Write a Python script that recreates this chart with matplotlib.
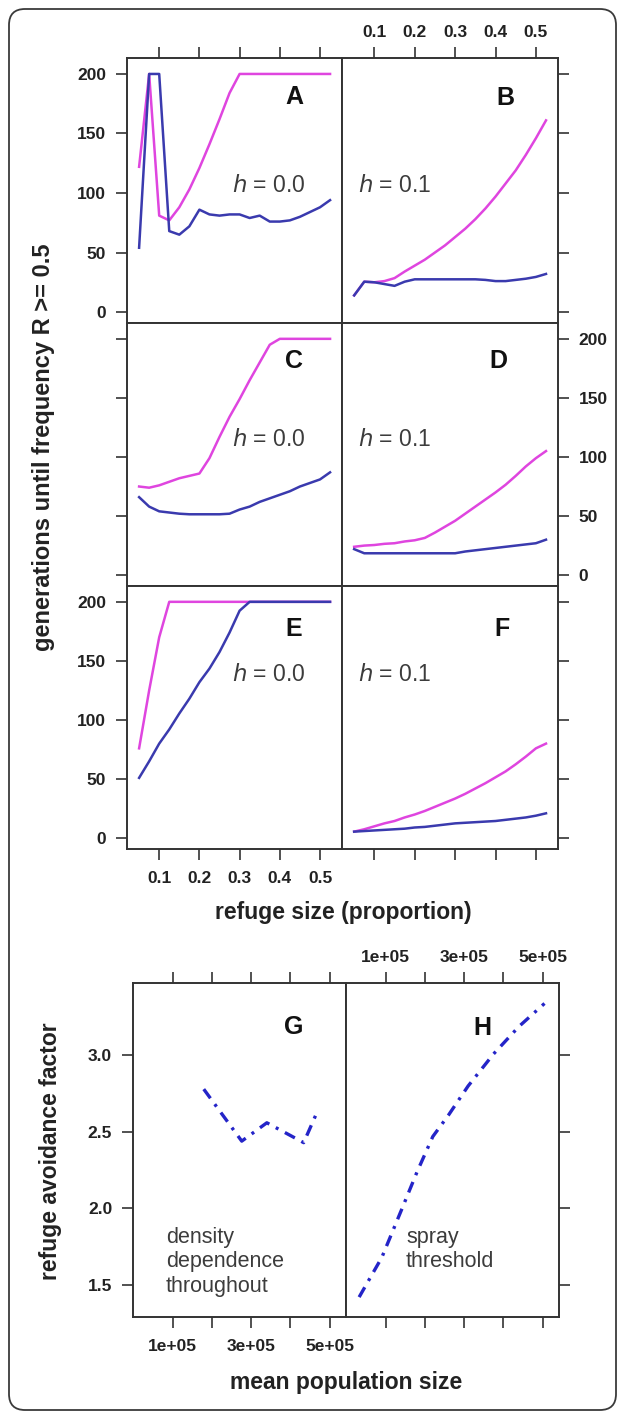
#!/usr/bin/env python3
"""
Refuge size / refuge avoidance panels (A-H), lattice-like layout.
"""

import matplotlib
matplotlib.use("Agg")
import matplotlib.pyplot as plt
from matplotlib.patches import FancyBboxPatch

plt.rcParams["font.family"] = ["Liberation Sans", "DejaVu Sans"]

# ── Data ─────────────────────────────────────────────────────────
refuge = [0.05, 0.075, 0.1, 0.125, 0.15, 0.175, 0.2, 0.225, 0.25, 0.275,
          0.3, 0.325, 0.35, 0.375, 0.4, 0.425, 0.45, 0.475, 0.5, 0.525]

a_pink = [122, 200, 81, 77, 88, 103, 121, 141, 162, 184,
          200, 200, 200, 200, 200, 200, 200, 200, 200, 200]
a_blue = [54, 200, 200, 68, 65, 72, 86, 82, 81, 82,
          82, 79, 81, 76, 76, 77, 80, 84, 88, 94]

b_pink = [14, 25.5, 25, 26, 28.5, 34, 39, 44, 50, 56,
          63, 70, 78, 87, 97, 108, 119, 132, 146, 161]
b_blue = [14, 25.5, 25, 23.5, 22, 25.5, 27.5, 27.5, 27.5, 27.5,
          27.5, 27.5, 27.5, 27, 26, 26, 27, 28, 29.5, 32]

c_pink = [75, 74, 76, 79, 82, 84, 86, 99, 117, 134,
          149, 165, 180, 195, 200, 200, 200, 200, 200, 200]
c_blue = [66, 58, 54, 53, 52, 51.5, 51.5, 51.5, 51.5, 52,
          55.5, 58, 62, 65, 68, 71, 75, 78, 81, 87]

d_pink = [24, 25, 25.5, 26.5, 27, 28.5, 29.5, 31.5, 36, 41,
          46, 52, 58, 64, 70, 76.5, 84, 92, 99, 105]
d_blue = [22, 18.5, 18.5, 18.5, 18.5, 18.5, 18.5, 18.5, 18.5, 18.5,
          18.5, 20, 21, 22, 23, 24, 25, 26, 27, 30]

e_pink = [76, 125, 170, 200, 200, 200, 200, 200, 200, 200,
          200, 200, 200, 200, 200, 200, 200, 200, 200, 200]
e_blue = [51, 65, 80, 92, 105.5, 118, 132, 143.5, 157.5, 174,
          192.5, 200, 200, 200, 200, 200, 200, 200, 200, 200]

f_pink = [5.5, 7.5, 10, 12.5, 14.5, 17.5, 20, 23, 26.5, 30,
          33.5, 37.5, 42, 46.5, 51.5, 56.5, 62.5, 69, 76, 80]
f_blue = [5.5, 6, 6.5, 7, 7.5, 8, 9, 9.5, 10.5, 11.5,
          12.5, 13, 13.5, 14, 14.5, 15.5, 16.5, 17.5, 19, 21]

pop_g = [1.79e5, 2.76e5, 3.40e5, 4.34e5, 4.70e5]
raf_g = [2.78, 2.44, 2.56, 2.43, 2.64]

pop_h = [0.32e5, 0.9e5, 1.4e5, 1.8e5, 2.2e5, 2.6e5, 3.1e5, 3.75e5, 4.4e5, 5.05e5]
raf_h = [1.42, 1.68, 1.99, 2.24, 2.47, 2.61, 2.80, 3.01, 3.19, 3.34]

gen_ticks = [0, 50, 100, 150, 200]
refuge_ticks = [0.1, 0.2, 0.3, 0.4, 0.5]
refuge_labels = ["0.1", "0.2", "0.3", "0.4", "0.5"]
pop_ticks = [1e5, 2e5, 3e5, 4e5, 5e5]
pop_labels = ["1e+05", "", "3e+05", "", "5e+05"]
raf_ticks = [1.5, 2.0, 2.5, 3.0]
raf_labels = ["1.5", "2.0", "2.5", "3.0"]

# ── Style ────────────────────────────────────────────────────────
W, H = 625, 1419
DPI = 100
PINK = "#df45df"
BLUE = "#3a3aae"
BLUE2 = "#2424c8"
FRAME = "#333333"
TXT = "#222222"
GREY = "#3c3c3c"
TICK_FS = 12.5
LAB_FS = 16.5

fig = plt.figure(figsize=(W / DPI, H / DPI), dpi=DPI)


def add_panel(x0, y0, x1, y1):
    """Axes from pixel box (top-left origin)."""
    ax = fig.add_axes([x0 / W, 1 - y1 / H, (x1 - x0) / W, (y1 - y0) / H])
    for s in ax.spines.values():
        s.set_color(FRAME)
        s.set_linewidth(1.4)
    ax.tick_params(which="both", direction="out", length=8, width=1.2,
                   color=FRAME, labelsize=TICK_FS, labelcolor=TXT)
    ax.tick_params(axis="y", pad=7)
    ax.tick_params(axis="x", pad=8)
    return ax


def set_ticks(ax, xt, xl, yt, yl, left, right, top, bottom,
              lleft=False, lright=False, ltop=False, lbottom=False):
    ax.set_xticks(xt)
    ax.set_yticks(yt)
    ax.set_xticklabels(xl, fontweight="bold")
    ax.set_yticklabels(yl, fontweight="bold")
    ax.tick_params(left=left, right=right, top=top, bottom=bottom,
                   labelleft=lleft, labelright=lright,
                   labeltop=ltop, labelbottom=lbottom)
    if ltop:
        ax.tick_params(axis="x", which="both", pad=5)


# ── Panels A-F ───────────────────────────────────────────────────
cols = [(127, 342), (342, 558)]
rows = [(58, 323), (323, 586), (586, 849)]
panels = [
    ("A", a_pink, a_blue, "0.0"),
    ("B", b_pink, b_blue, "0.1"),
    ("C", c_pink, c_blue, "0.0"),
    ("D", d_pink, d_blue, "0.1"),
    ("E", e_pink, e_blue, "0.0"),
    ("F", f_pink, f_blue, "0.1"),
]
letter_pos = [(0.777, 0.853), (0.755, 0.849), (0.777, 0.855),
              (0.725, 0.855), (0.777, 0.836), (0.74, 0.836)]
h_y = [0.52, 0.517, 0.556, 0.556, 0.664, 0.664]
gen_lab = [str(v) for v in gen_ticks]

for i, (letter, pink, blue, hval) in enumerate(panels):
    r, c = divmod(i, 2)
    ax = add_panel(cols[c][0], rows[r][0], cols[c][1], rows[r][1])
    ax.plot(refuge, pink, color=PINK, lw=1.8)
    ax.plot(refuge, blue, color=BLUE, lw=1.8)
    ax.set_xlim(0.0199, 0.5547)
    ax.set_ylim(-9.2, 213.4)

    top = r == 0
    bottom = r == 2
    set_ticks(ax, refuge_ticks, refuge_labels, gen_ticks, gen_lab,
              left=(c == 0), right=(c == 1), top=top, bottom=bottom,
              lleft=(c == 0 and r != 1), lright=(c == 1 and r == 1),
              ltop=(top and c == 1), lbottom=(bottom and c == 0))

    lx, ly = letter_pos[i]
    ax.text(lx, ly, letter, transform=ax.transAxes, ha="center", va="center",
            fontsize=18, fontweight="bold", color="#111111")
    hx = 0.658 if c == 0 else 0.243
    ax.text(hx, h_y[i], "$\\mathit{h}$ = " + hval, transform=ax.transAxes,
            ha="center", va="center", fontsize=16.5, color=GREY)

fig.text(44 / W, 1 - 447 / H, "generations until frequency R >= 0.5",
         rotation=90, ha="center", va="center", fontsize=17,
         fontweight="bold", color=TXT)
fig.text(343 / W, 1 - 912 / H, "refuge size (proportion)",
         ha="center", va="center", fontsize=LAB_FS, fontweight="bold",
         color=TXT)

# ── Panels G-H ───────────────────────────────────────────────────
axg = add_panel(133, 983, 346, 1317)
axh = add_panel(346, 983, 559, 1317)
for ax, xs, ys in ((axg, pop_g, raf_g), (axh, pop_h, raf_h)):
    ax.plot(xs, ys, color=BLUE2, lw=2.4, dashes=(3.4, 2.2, 0.9, 2.2))
    ax.set_xlim(-0.015e5, 5.42e5)
    ax.set_ylim(1.29, 3.474)

set_ticks(axg, pop_ticks, pop_labels, raf_ticks, raf_labels,
          left=True, right=False, top=True, bottom=True,
          lleft=True, lbottom=True)
set_ticks(axh, pop_ticks, pop_labels, raf_ticks, raf_labels,
          left=False, right=True, top=True, bottom=True,
          ltop=True)

axg.text(0.756, 0.868, "G", transform=axg.transAxes, ha="center",
         va="center", fontsize=18, fontweight="bold", color="#111111")
axh.text(0.642, 0.865, "H", transform=axh.transAxes, ha="center",
         va="center", fontsize=18, fontweight="bold", color="#111111")
axg.text(0.155, 0.165, "density\ndependence\nthroughout",
         transform=axg.transAxes, ha="left", va="center", fontsize=15.5,
         color=GREY, linespacing=1.2)
axh.text(0.282, 0.203, "spray\nthreshold", transform=axh.transAxes,
         ha="left", va="center", fontsize=15.5, color=GREY, linespacing=1.2)

fig.text(51 / W, 1 - 1151 / H, "refuge avoidance factor", rotation=90,
         ha="center", va="center", fontsize=LAB_FS, fontweight="bold",
         color=TXT)
fig.text(346 / W, 1 - 1382 / H, "mean population size", ha="center",
         va="center", fontsize=LAB_FS, fontweight="bold", color=TXT)

# ── Outer rounded border ─────────────────────────────────────────
border = FancyBboxPatch((9 / DPI, 9 / DPI), (W - 18) / DPI, (H - 18) / DPI,
                        boxstyle="round,pad=0,rounding_size=0.16",
                        transform=fig.dpi_scale_trans, fill=False,
                        edgecolor="#3a3a3a", linewidth=1.3)
fig.patches.append(border)

fig.savefig("out.png", dpi=DPI)
